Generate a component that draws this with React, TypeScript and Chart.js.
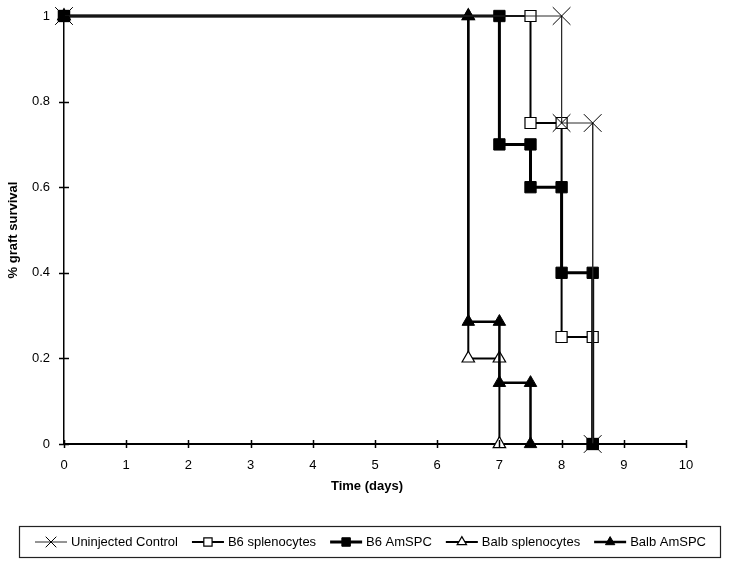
import React, { useEffect, useRef } from "react";
import { Chart, registerables } from "chart.js";

Chart.register(...registerables);

// ---- Data ----
const seriesNames = [
  "Uninjected Control",
  "B6 splenocytes",
  "B6 AmSPC",
  "Balb splenocytes",
  "Balb AmSPC",
];

const controlDays = [0, 8, 8, 8.5, 8.5];
const controlSurvival = [1, 1, 0.75, 0.75, 0];

const b6SplenDays = [0, 7.5, 7.5, 8, 8, 8.5, 8.5];
const b6SplenSurvival = [1, 1, 0.75, 0.75, 0.25, 0.25, 0];

const b6AmDays = [0, 7, 7, 7.5, 7.5, 8, 8, 8.5, 8.5];
const b6AmSurvival = [1, 1, 0.7, 0.7, 0.6, 0.6, 0.4, 0.4, 0];

const balbSplenDays = [0, 6.5, 6.5, 7, 7];
const balbSplenSurvival = [1, 1, 0.2, 0.2, 0];

const balbAmDays = [0, 6.5, 6.5, 7, 7, 7.5, 7.5];
const balbAmSurvival = [1, 1, 0.2857, 0.2857, 0.1429, 0.1429, 0];

const xTickValues = [0, 1, 2, 3, 4, 5, 6, 7, 8, 9, 10];
const yTickValues = [0, 0.2, 0.4, 0.6, 0.8, 1];
const yTickLabels = ["0", "0.2", "0.4", "0.6", "0.8", "1"];

const xTitle = "Time (days)";
const yTitle = "% graft survival";

// ---- Styles ----
const FONT = '"Liberation Sans", Arial, Helvetica, sans-serif';

type Style = {
  lineWidth: number;
  lineColor: string;
  marker: "crossRot" | "rect" | "triangle";
  radius: number;
  fill: string;
  markerBorder: number;
  order: number;
};

const styles: Style[] = [
  { lineWidth: 1, lineColor: "#2a2a2a", marker: "crossRot", radius: 12.5, fill: "rgba(0,0,0,0)", markerBorder: 1, order: 0 },
  { lineWidth: 2, lineColor: "#000", marker: "rect", radius: 7.8, fill: "#fff", markerBorder: 1.2, order: 3 },
  { lineWidth: 3, lineColor: "#000", marker: "rect", radius: 8, fill: "#000", markerBorder: 1, order: 1 },
  { lineWidth: 2, lineColor: "#000", marker: "triangle", radius: 7.2, fill: "#fff", markerBorder: 1.2, order: 4 },
  { lineWidth: 2.5, lineColor: "#000", marker: "triangle", radius: 7.2, fill: "#000", markerBorder: 1, order: 2 },
];

const seriesDays = [controlDays, b6SplenDays, b6AmDays, balbSplenDays, balbAmDays];
const seriesSurvival = [controlSurvival, b6SplenSurvival, b6AmSurvival, balbSplenSurvival, balbAmSurvival];

function drawMarker(ctx: CanvasRenderingContext2D, kind: string, cx: number, cy: number, r: number, fill: string, bw: number) {
  ctx.save();
  ctx.lineWidth = bw;
  ctx.strokeStyle = "#000";
  ctx.fillStyle = fill;
  ctx.beginPath();
  if (kind === "crossRot") {
    const d = r * Math.SQRT1_2;
    ctx.moveTo(cx - d, cy - d);
    ctx.lineTo(cx + d, cy + d);
    ctx.moveTo(cx - d, cy + d);
    ctx.lineTo(cx + d, cy - d);
    ctx.stroke();
  } else if (kind === "rect") {
    const s = r * Math.SQRT1_2;
    ctx.rect(cx - s, cy - s, 2 * s, 2 * s);
    ctx.fill();
    ctx.stroke();
  } else {
    const a = -Math.PI / 2;
    for (let k = 0; k < 3; k++) {
      const ang = a + (k * 2 * Math.PI) / 3;
      const px = cx + Math.cos(ang) * r;
      const py = cy + Math.sin(ang) * r;
      if (k === 0) ctx.moveTo(px, py);
      else ctx.lineTo(px, py);
    }
    ctx.closePath();
    ctx.fill();
    ctx.stroke();
  }
  ctx.restore();
}

const decorPlugin = {
  id: "decor",
  afterDraw(chart: any) {
    const ctx: CanvasRenderingContext2D = chart.ctx;
    const xs = chart.scales.x;
    const ys = chart.scales.y;
    const area = chart.chartArea;
    ctx.save();
    // crossing tick marks
    ctx.strokeStyle = "#000";
    ctx.lineWidth = 1.5;
    ctx.beginPath();
    xTickValues.forEach((v) => {
      const px = Math.round(xs.getPixelForValue(v)) + 0.5;
      ctx.moveTo(px, area.bottom - 4);
      ctx.lineTo(px, area.bottom + 4);
    });
    yTickValues.forEach((v) => {
      const py = Math.round(ys.getPixelForValue(v)) + 0.5;
      ctx.moveTo(area.left - 5, py);
      ctx.lineTo(area.left + 5, py);
    });
    ctx.stroke();

    // x-axis title
    ctx.fillStyle = "#000";
    ctx.font = `bold 13px ${FONT}`;
    ctx.textAlign = "center";
    ctx.textBaseline = "middle";
    ctx.fillText(xTitle, 367, 486);

    // legend
    const boxL = 19.5, boxT = 526.5, boxR = 720.5, boxB = 557.5;
    ctx.lineWidth = 1.2;
    ctx.strokeStyle = "#222";
    ctx.strokeRect(boxL, boxT, boxR - boxL, boxB - boxT);
    ctx.font = `13px ${FONT}`;
    ctx.textAlign = "left";
    ctx.textBaseline = "middle";
    const cy = 542;
    let x = 35;
    seriesNames.forEach((name, i) => {
      const st = styles[i];
      const symW = 32;
      ctx.strokeStyle = st.lineColor;
      ctx.lineWidth = st.lineWidth;
      ctx.beginPath();
      ctx.moveTo(x, cy);
      ctx.lineTo(x + symW, cy);
      ctx.stroke();
      drawMarker(ctx, st.marker, x + symW / 2, cy, st.radius * (st.marker === "crossRot" ? 0.6 : 0.75), st.fill, st.markerBorder);
      ctx.fillStyle = "#000";
      ctx.fillText(name, x + symW + 4, cy);
      const w = ctx.measureText(name).width;
      x += symW + 4 + w + 14;
    });
    ctx.restore();
  },
};

export default function App() {
  const canvasRef = useRef<HTMLCanvasElement | null>(null);

  useEffect(() => {
    document.body.style.margin = "0";
    const canvas = canvasRef.current;
    if (!canvas) return;

    const datasets = seriesNames.map((name, i) => {
      const st = styles[i];
      return {
        label: name,
        data: seriesDays[i].map((d, k) => ({ x: d, y: seriesSurvival[i][k] })),
        borderColor: st.lineColor,
        borderWidth: st.lineWidth,
        backgroundColor: st.fill,
        pointStyle: st.marker,
        pointRadius: st.radius,
        pointHoverRadius: st.radius,
        pointBackgroundColor: st.fill,
        pointBorderColor: "#000",
        pointBorderWidth: st.markerBorder,
        tension: 0,
        fill: false,
        clip: false,
        order: st.order,
      };
    });

    const chart = new Chart(canvas, {
      type: "line",
      data: { datasets } as any,
      options: {
        animation: false,
        responsive: false,
        events: [],
        layout: { autoPadding: false, padding: { left: 0, top: 16, right: 46, bottom: 0 } },
        plugins: {
          legend: { display: false },
          tooltip: { enabled: false },
        },
        scales: {
          x: {
            type: "linear",
            min: 0,
            max: 10,
            grid: { display: false, drawTicks: false },
            border: { display: true, color: "#000", width: 2 },
            afterFit: (scale: any) => {
              scale.height = 119;
              scale.paddingLeft = 0;
              scale.paddingRight = 0;
            },
            afterBuildTicks: (scale: any) => {
              scale.ticks = xTickValues.map((v) => ({ value: v }));
            },
            ticks: {
              padding: 14,
              color: "#000",
              font: { family: FONT, size: 13 },
              maxRotation: 0,
              autoSkip: false,
            },
            title: { display: false, text: xTitle },
          },
          y: {
            type: "linear",
            min: 0,
            max: 1,
            grid: { display: false, drawTicks: false },
            border: { display: true, color: "#000", width: 1.5 },
            afterFit: (scale: any) => {
              scale.width = 64;
              scale.paddingTop = 0;
              scale.paddingBottom = 0;
            },
            afterBuildTicks: (scale: any) => {
              scale.ticks = yTickValues.map((v) => ({ value: v }));
            },
            ticks: {
              padding: 14,
              color: "#000",
              font: { family: FONT, size: 13 },
              autoSkip: false,
              callback: (_v: any, idx: number) => yTickLabels[idx],
            },
            title: {
              display: true,
              text: yTitle,
              color: "#000",
              font: { family: FONT, size: 13, weight: "bold" },
              padding: { top: 6, bottom: 0 },
            },
          },
        },
      },
      plugins: [decorPlugin],
    } as any);

    return () => chart.destroy();
  }, []);

  return (
    <div style={{ width: 732, height: 563, background: "#fff" }}>
      <canvas ref={canvasRef} width={732} height={563} />
    </div>
  );
}
